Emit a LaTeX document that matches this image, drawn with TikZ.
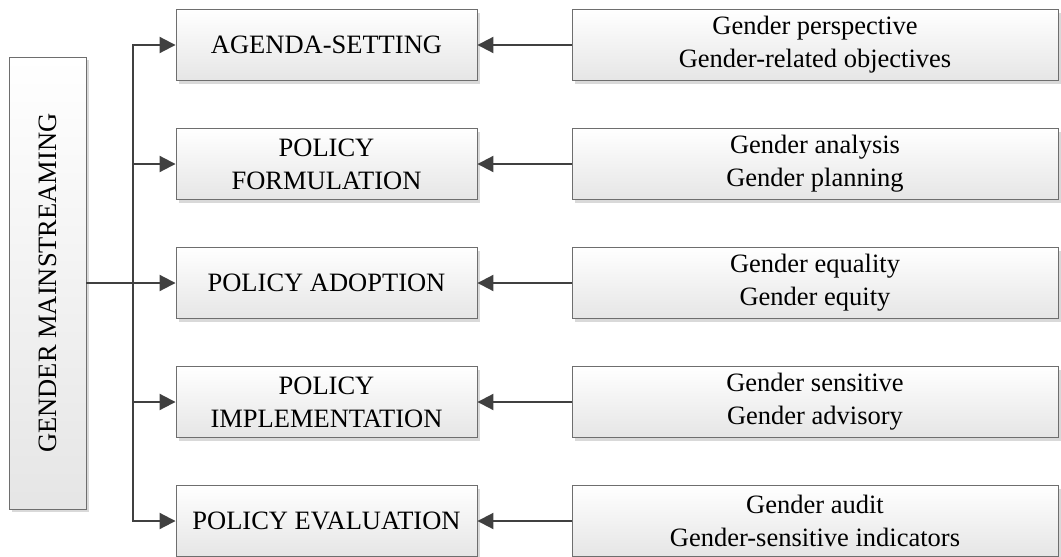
\documentclass[tikz,border=0pt]{standalone}
\usepackage{fontspec}
\setmainfont{Liberation Serif}
\usetikzlibrary{arrows.meta,shadows}
\definecolor{bordercol}{HTML}{6E6E6E}
\definecolor{linecol}{HTML}{404040}
\begin{document}
\begin{tikzpicture}[x=1pt,y=-1pt,
  box/.style={draw=bordercol, line width=0.9pt, top color=white, bottom color=black!10,
    drop shadow={shadow xshift=3pt, shadow yshift=-3pt, fill=black!25, opacity=0.6},
    align=center, inner sep=0pt,
    font=\fontsize{26.5}{33}\selectfont},
  midbox/.style={box, minimum width=301pt, minimum height=71pt},
  rightbox/.style={box, minimum width=486pt, minimum height=71pt},
  conn/.style={draw=linecol, line width=2pt},
  arr/.style={conn, -{Triangle[length=16pt,width=16pt]}}
]
\useasboundingbox (0,0) rectangle (1061,557);
\node[box, minimum width=77pt, minimum height=452pt] (L) at (47.5,283) {};
\node[rotate=90, font=\fontsize{26.5}{33}\selectfont] (Lt) at (L.center) {GENDER MAINSTREAMING};

\node[midbox] (m1) at (326.5,45) {AGENDA-SETTING};
\node[midbox] (m2) at (326.5,164) {POLICY\\FORMULATION};
\node[midbox] (m3) at (326.5,283) {POLICY ADOPTION};
\node[midbox] (m4) at (326.5,402) {POLICY\\IMPLEMENTATION};
\node[midbox] (m5) at (326.5,521) {POLICY EVALUATION};

\node[rightbox] (r1) at (815,45) {Gender perspective\\Gender-related objectives};
\node[rightbox] (r2) at (815,164) {Gender analysis\\Gender planning};
\node[rightbox] (r3) at (815,283) {Gender equality\\Gender equity};
\node[rightbox] (r4) at (815,402) {Gender sensitive\\Gender advisory};
\node[rightbox] (r5) at (815,521) {Gender audit\\Gender-sensitive indicators};

\coordinate (j) at (133,283);
\draw[conn] (L.east |- j) -- (j);
\foreach \i in {1,...,5} {
  \draw[arr] (j) |- (m\i.west);
  \draw[arr] (r\i.west) -- (m\i.east);
}
\end{tikzpicture}
\end{document}
